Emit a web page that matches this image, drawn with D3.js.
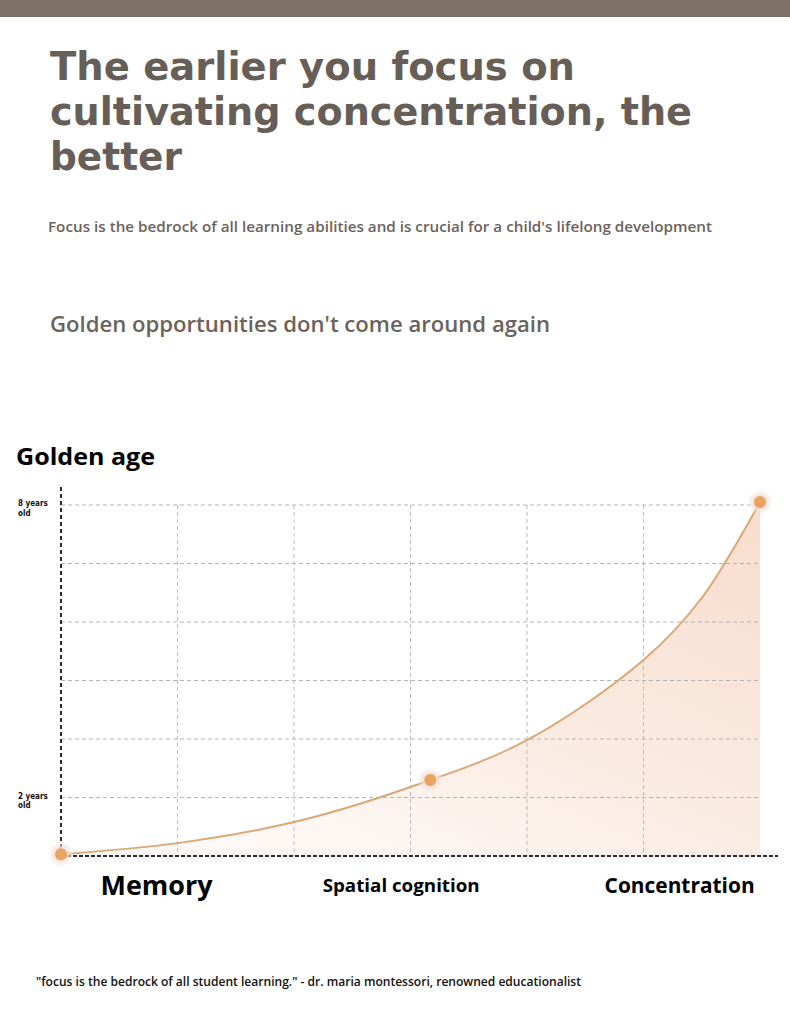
<!DOCTYPE html>
<html>
<head>
<meta charset="utf-8">
<script src="https://cdn.jsdelivr.net/npm/d3@7"></script>
<style>
  html, body { margin: 0; padding: 0; background: #fff; }
  svg { display: block; font-family: "Open Sans", "Noto Sans", sans-serif; }
</style>
</head>
<body>
<svg id="chart" width="790" height="1024"></svg>
<script>
// header texts
let titleLines = ["The earlier you focus on", "cultivating concentration, the", "better"];
let subtitle = "Focus is the bedrock of all learning abilities and is crucial for a child's lifelong development";
let tagline = "Golden opportunities don't come around again";
let chartTitle = "Golden age";
let quote = "\"focus is the bedrock of all student learning.\" - dr. maria montessori, renowned educationalist";

// curve in grid units (x: 0..6 columns, y: 0..6 rows)
let curveX = [0, 1, 2, 3, 4, 5, 5.5, 6];
let curveY = [0.03, 0.22, 0.58, 1.18, 1.98, 3.35, 4.41, 6.05];

// highlighted points on the curve
let markerX = [0, 3.17, 6];
let markerY = [0.03, 1.3, 6.05];

// axis
let categories = ["Memory", "Spatial cognition", "Concentration"];
let yTickValues = [6, 1];
let yTickLabels = [["8 years", "old"], ["2 years", "old"]];

let svg = d3.select("#chart");
let titleColor = "#675e58";
let condensed = "'DejaVu Sans Condensed', 'DejaVu Sans', sans-serif";

// top band
svg.append("rect").attr("x", 0).attr("y", 0).attr("width", 790).attr("height", 17)
    .attr("fill", "#7e7168");

// title block
let titleWidths = [525, 642, 132];
svg.selectAll(".title")
    .data(titleLines)
    .enter()
    .append("text")
    .attr("class", "title")
    .attr("x", 50)
    .attr("y", function (d, i) { return 80 + i * 45; })
    .attr("fill", titleColor)
    .style("font-family", condensed)
    .attr("font-size", 38.5)
    .attr("font-weight", 700)
    .attr("textLength", function (d, i) { return titleWidths[i]; })
    .attr("lengthAdjust", "spacingAndGlyphs")
    .text(function (d) { return d; });

svg.append("text")
    .attr("x", 48).attr("y", 232)
    .attr("fill", "#6b625c")
    .attr("font-size", 14.5)
    .attr("font-weight", 600)
    .attr("textLength", 664)
    .attr("lengthAdjust", "spacingAndGlyphs")
    .text(subtitle);

svg.append("text")
    .attr("x", 50).attr("y", 332)
    .attr("fill", "#6b625c")
    .attr("font-size", 21)
    .attr("font-weight", 600)
    .attr("textLength", 500)
    .attr("lengthAdjust", "spacingAndGlyphs")
    .text(tagline);

svg.append("text")
    .attr("x", 16).attr("y", 465)
    .attr("fill", "#000")
    .attr("font-size", 24)
    .attr("font-weight", 700)
    .attr("textLength", 139)
    .attr("lengthAdjust", "spacingAndGlyphs")
    .text(chartTitle);

// scales
let x = d3.scaleLinear().domain([0, 6]).range([61, 760]);
let y = d3.scaleLinear().domain([0, 6]).range([856, 505]);

let defs = svg.append("defs");
let grad = defs.append("linearGradient")
    .attr("id", "areaFill")
    .attr("x1", "100%").attr("y1", "0%")
    .attr("x2", "15%").attr("y2", "100%");
grad.append("stop").attr("offset", "0%").attr("stop-color", "#f6d8c5").attr("stop-opacity", 0.9);
grad.append("stop").attr("offset", "55%").attr("stop-color", "#f9e5d9").attr("stop-opacity", 0.75);
grad.append("stop").attr("offset", "100%").attr("stop-color", "#fdf3ee").attr("stop-opacity", 0.4);

let halo = defs.append("radialGradient").attr("id", "halo");
halo.append("stop").attr("offset", "45%").attr("stop-color", "#f2ddd5").attr("stop-opacity", 1);
halo.append("stop").attr("offset", "100%").attr("stop-color", "#f6e9e4").attr("stop-opacity", 0.25);

let points = curveX.map(function (d, i) { return [d, curveY[i]]; });

// area under the curve
let area = d3.area()
    .x(function (d) { return x(d[0]); })
    .y0(y(0))
    .y1(function (d) { return y(d[1]); })
    .curve(d3.curveCatmullRom.alpha(0.5));

svg.append("path")
    .datum(points)
    .attr("d", area)
    .attr("fill", "url(#areaFill)");

// grid
let grid = svg.append("g").attr("class", "grid");
grid.selectAll(".hline")
    .data(d3.range(1, 7))
    .enter()
    .append("line")
    .attr("x1", x(0)).attr("x2", x(6))
    .attr("y1", function (d) { return y(d); })
    .attr("y2", function (d) { return y(d); })
    .attr("stroke", "#b4b4b4")
    .attr("stroke-width", 1)
    .attr("stroke-dasharray", "4 3");

grid.selectAll(".vline")
    .data(d3.range(1, 6))
    .enter()
    .append("line")
    .attr("x1", function (d) { return x(d); })
    .attr("x2", function (d) { return x(d); })
    .attr("y1", y(6)).attr("y2", y(0))
    .attr("stroke", "#bcbcbc")
    .attr("stroke-width", 1)
    .attr("stroke-dasharray", "4 3");

// axes
svg.append("line")
    .attr("x1", x(0)).attr("x2", x(0))
    .attr("y1", 487).attr("y2", y(0))
    .attr("stroke", "#2b2b2b")
    .attr("stroke-width", 2)
    .attr("stroke-dasharray", "4 3");

svg.append("line")
    .attr("x1", x(0)).attr("x2", 778)
    .attr("y1", y(0)).attr("y2", y(0))
    .attr("stroke", "#2b2b2b")
    .attr("stroke-width", 2)
    .attr("stroke-dasharray", "4 2");

// curve
let line = d3.line()
    .x(function (d) { return x(d[0]); })
    .y(function (d) { return y(d[1]); })
    .curve(d3.curveCatmullRom.alpha(0.5));

svg.append("path")
    .datum(points)
    .attr("d", line)
    .attr("fill", "none")
    .attr("stroke", "#d8a876")
    .attr("stroke-width", 2);

// markers
let markers = svg.selectAll(".marker")
    .data(markerX)
    .enter()
    .append("g")
    .attr("class", "marker")
    .attr("transform", function (d, i) { return "translate(" + x(d) + "," + y(markerY[i]) + ")"; });
markers.append("circle").attr("r", 12).attr("fill", "url(#halo)");
markers.append("circle").attr("r", 6).attr("fill", "#eaa462");

// y tick labels, one text per line
yTickValues.forEach(function (v, i) {
    svg.selectAll(".ylab" + i)
        .data(yTickLabels[i])
        .enter()
        .append("text")
        .attr("x", 18)
        .attr("y", function (d, j) { return y(v) + 1 + j * 9.5; })
        .style("font-family", condensed)
        .attr("font-size", 8)
        .attr("font-weight", 700)
        .attr("fill", "#111")
        .text(function (d) { return d; });
});

// category labels
let catAt = [0.82, 2.92, 5.31];
let catSize = [27, 17, 21];
let catBase = [895, 892, 893];
let catWidth = [112, 157, 150];
svg.selectAll(".cat")
    .data(categories)
    .enter()
    .append("text")
    .attr("class", "cat")
    .attr("x", function (d, i) { return x(catAt[i]); })
    .attr("y", function (d, i) { return catBase[i]; })
    .attr("text-anchor", "middle")
    .attr("font-size", function (d, i) { return catSize[i]; })
    .attr("font-weight", 700)
    .attr("fill", "#000")
    .attr("textLength", function (d, i) { return catWidth[i]; })
    .attr("lengthAdjust", "spacingAndGlyphs")
    .text(function (d) { return d; });

// quote
svg.append("text")
    .attr("x", 36).attr("y", 986)
    .attr("font-size", 12.5)
    .attr("font-weight", 600)
    .attr("fill", "#111")
    .attr("textLength", 545)
    .attr("lengthAdjust", "spacingAndGlyphs")
    .text(quote);
</script>
</body>
</html>
